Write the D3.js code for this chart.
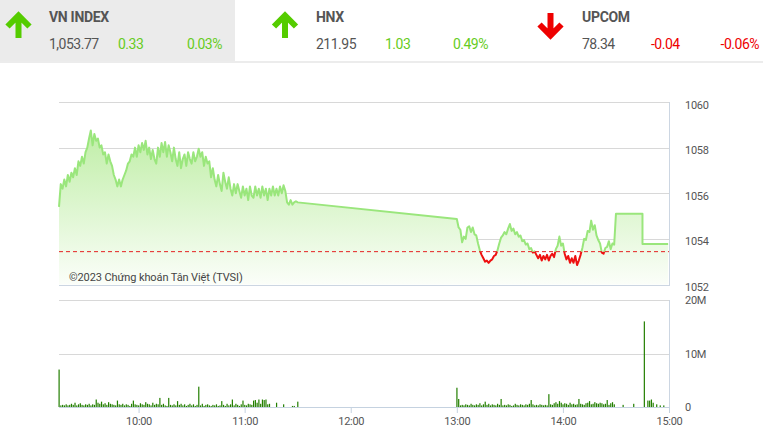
<!DOCTYPE html>
<html>
<head>
<meta charset="utf-8">
<script src="https://cdn.jsdelivr.net/npm/d3@7"></script>
<style>
  html, body { margin: 0; padding: 0; background: #fff; }
  svg { display: block; font-family: Roboto, "Noto Sans", sans-serif; }
</style>
</head>
<body>
<svg id="chart" width="763" height="436"></svg>
<script>
// ---------------- DATA ----------------
const headerNames    = ["VN INDEX", "HNX", "UPCOM"];
const headerValues   = ["1,053.77", "211.95", "78.34"];
const headerChanges  = ["0.33", "1.03", "-0.04"];
const headerPercents = ["0.03%", "0.49%", "-0.06%"];
const headerUp       = [true, true, false];

const referenceValue = 1053.44;     // previous close
const morningStart   = "09:15";     // one value per minute
const afternoonStart = "13:00";     // one value per minute

const morningIndex = [
  1055.4,1056.4,1056.2,1056.6,1056.3,1056.8,1056.5,1056.9,1056.7,1057.1,
  1056.8,1057.4,1057.2,1057.6,1057.3,1057.8,1058.0,1058.4,1058.75,1058.1,
  1058.6,1058.3,1058.4,1058.0,1058.1,1057.7,1057.8,1057.3,1057.7,1057.4,
  1057.2,1056.8,1056.6,1056.3,1056.6,1056.3,1056.6,1056.8,1057.0,1057.3,
  1057.4,1057.7,1057.6,1058.0,1057.6,1058.1,1057.8,1058.2,1057.9,1058.3,
  1057.7,1058.0,1057.5,1057.9,1057.5,1057.3,1058.0,1057.6,1058.2,1057.8,
  1058.25,1057.6,1058.1,1057.8,1057.4,1058.0,1057.5,1057.2,1057.8,1057.1,
  1057.5,1057.7,1057.2,1057.8,1057.5,1057.3,1057.8,1057.4,1057.6,1057.95,
  1057.6,1057.8,1057.2,1057.6,1057.3,1057.4,1056.7,1057.1,1056.6,1056.3,
  1056.8,1056.4,1056.1,1056.9,1056.5,1056.2,1056.7,1056.2,1055.9,1056.4,
  1056.0,1056.4,1056.1,1055.8,1056.3,1055.9,1056.2,1055.7,1056.3,1055.9,
  1055.8,1056.3,1055.9,1056.2,1055.8,1056.3,1055.9,1056.2,1055.7,1056.2,
  1055.9,1056.3,1055.9,1056.2,1055.9,1056.3,1056.0,1056.35,1056.1,1055.6,
  1055.5,1055.7,1055.5,1055.6,1055.65,1055.6
];
const afternoonIndex = [
  1054.87,1054.5,1054.4,1053.85,1054.1,1054.0,1054.5,1054.55,1054.3,1054.5,
  1054.2,1054.15,1053.8,1053.5,1053.3,1053.15,1053.0,1053.05,1052.95,1053.05,
  1053.1,1053.25,1053.3,1053.5,1053.8,1054.05,1054.15,1054.3,1054.2,1054.45,
  1054.65,1054.35,1054.45,1054.2,1054.3,1054.1,1054.15,1053.9,1053.95,1053.75,
  1053.8,1053.55,1053.6,1053.4,1053.45,1053.3,1053.15,1053.3,1053.05,1053.25,
  1053.1,1053.3,1053.05,1053.25,1053.35,1053.2,1053.55,1053.7,1054.1,1053.7,
  1053.8,1053.35,1053.1,1053.25,1052.95,1053.15,1052.95,1053.25,1052.85,1053.05,
  1053.3,1053.6,1054.0,1053.95,1054.35,1054.3,1054.8,1054.4,1054.6,1054.15,
  1053.95,1053.8,1053.4,1053.35,1053.6,1053.65,1053.9,1053.55,1053.8,1053.75
];
const atcTimes = ["14:30", "14:45", "14:45", "14:59:30"];
const atcIndex = [1055.1, 1055.1, 1053.77, 1053.77];

// volume in millions, one value per minute
const morningVolume = [
  7.0,0.3,0.4,0.3,0.5,0.3,0.4,0.6,0.4,0.8,
  0.3,0.5,0.7,0.4,0.3,0.5,0.4,0.6,0.3,0.5,
  0.4,1.4,0.8,0.6,1.0,0.5,0.7,0.4,0.9,0.6,
  0.5,0.4,0.3,1.2,0.5,0.4,0.6,0.3,0.5,0.4,
  0.2,0.6,1.2,0.5,0.4,0.3,0.7,0.5,0.4,0.9,
  0.6,0.5,0.3,0.8,0.4,0.6,0.5,1.7,0.4,0.6,
  0.3,0.2,1.7,0.4,0.3,0.5,0.3,1.1,0.4,0.6,
  0.3,0.5,0.2,0.4,0.6,0.3,0.5,0.2,0.4,3.8,
  0.3,0.6,0.2,0.4,0.5,0.3,0.2,0.4,0.3,0.5,
  0.2,0.3,1.1,0.4,0.2,0.6,0.3,0.5,1.4,0.3,
  0.6,0.4,0.2,0.5,1.2,0.4,0.3,0.6,0.5,0.4,
  1.2,1.3,0.8,1.4,0.6,1.4,1.3,1.4,0.5,0.6,
  0,0,0,0.8,0,0,0,0.5,0,0,
  0,0,0.2,0.2,0,1.0
];
const afternoonVolume = [
  3.6,1.5,0.3,0.4,0.3,0.5,0.4,0.3,0.6,0.4,
  0.3,0.5,0.4,0.7,0.3,0.5,1.0,0.4,0.6,0.3,
  0.5,0.4,0.3,0.6,0.4,1.5,0.3,0.4,0.3,0.5,
  0.4,0.2,0.3,0.6,0.4,0.3,0.5,0.4,0.3,0.5,
  0.4,0.6,1.3,0.5,0.3,0.4,0.3,0.5,0.4,0.3,
  0.4,0.3,2.4,0.5,0.4,0.7,0.9,0.6,1.1,0.8,
  0.5,0.7,0.6,0.4,0.8,0.5,0.6,0.4,0.5,1.5,
  0.6,0.5,0.4,0.7,0.8,1.1,0.5,0.6,0.9,0.7,
  0.6,0.8,0.7,0.5,0.6,1.3,0.4,0.7,0.9,0.5,
  0,0,0,0,0.4,0,0,0,0,0,
  0.6,0,0,0,0,0,16.0,0,1.2,1.2,
  1.4,0.8,0,0.5,0,0.3,0,0.3
];

const priceTicks   = [1052, 1054, 1056, 1058, 1060];
const volumeTicks  = [0, 10, 20];
const volumeLabels = ["0", "10M", "20M"];
const timeTicks    = ["10:00", "11:00", "12:00", "13:00", "14:00", "15:00"];
const domainTimes  = ["09:15", "15:00"];
const watermark    = "©2023 Chứng khoán Tân Việt (TVSI)";

// ---------------- HELPERS ----------------
const parseT = s => { const p = s.split(":").map(Number); return new Date(2023, 0, 2, p[0], p[1], p[2] || 0); };
const addMin = (d, m) => new Date(d.getTime() + m * 60000);

const priceData = [
  ...morningIndex.map((v, i) => ({ t: addMin(parseT(morningStart), i), v })),
  ...afternoonIndex.map((v, i) => ({ t: addMin(parseT(afternoonStart), i), v })),
  ...atcIndex.map((v, i) => ({ t: parseT(atcTimes[i]), v }))
];
const volData = [
  ...morningVolume.map((v, i) => ({ t: addMin(parseT(morningStart), i), v })),
  ...afternoonVolume.map((v, i) => ({ t: addMin(parseT(afternoonStart), i), v }))
].filter(d => d.v > 0);

// ---------------- LAYOUT ----------------
const svg = d3.select("#chart");
const W = 763;
const plotL = 59, plotR = 669;
const mainTop = 102, mainBot = 284.5;
const volTop = 300, volBot = 407;

const x = d3.scaleTime().domain(domainTimes.map(parseT)).range([plotL, plotR]);
const y = d3.scaleLinear().domain([1052, 1060]).range([mainBot, mainTop]);
const yv = d3.scaleLinear().domain([0, 20]).range([volBot, volTop]);

// ---------------- HEADER ----------------
const header = svg.append("g");
header.append("rect").attr("x", 0).attr("y", 0).attr("width", 235).attr("height", 62).attr("fill", "#ebebeb");
header.append("rect").attr("x", 0).attr("y", 61).attr("width", W).attr("height", 2).attr("fill", "#ececec");

const panelX = [0, 266, 533];
headerNames.forEach((name, i) => {
  const g = header.append("g").attr("transform", `translate(${panelX[i]},0)`);
  const up = headerUp[i];
  const col = up ? "#55cc00" : "#ee0000";
  const cx = i === 0 ? 18.5 : (i === 1 ? 19 : 17.5);
  if (up) {
    g.append("path").attr("d", `M${cx},38 L${cx},18 M${cx - 11},26.5 L${cx},15.5 L${cx + 11},26.5`)
      .attr("fill", "none").attr("stroke", col).attr("stroke-width", 6).attr("stroke-linejoin", "miter");
  } else {
    g.append("path").attr("d", `M${cx},13 L${cx},33 M${cx - 11},24.5 L${cx},35.5 L${cx + 11},24.5`)
      .attr("fill", "none").attr("stroke", col).attr("stroke-width", 6).attr("stroke-linejoin", "miter");
  }
  const tx = i === 0 ? 49 : (i === 1 ? 50 : 49);
  g.append("text").attr("x", tx).attr("y", 22).text(name)
    .attr("font-size", 14).attr("font-weight", 700).attr("fill", "#555").attr("letter-spacing", -0.3);
  g.append("text").attr("x", tx).attr("y", 49).text(headerValues[i])
    .attr("font-size", 14).attr("fill", "#555").attr("letter-spacing", -0.5);
  g.append("text").attr("x", tx + 69).attr("y", 49).text(headerChanges[i])
    .attr("font-size", 14).attr("fill", up ? "#66cc22" : "#ee0000").attr("letter-spacing", -0.5);
  const pctRight = i === 0 ? 222 : (i === 1 ? 222 : 226);
  g.append("text").attr("x", pctRight).attr("y", 49).attr("text-anchor", "end").text(headerPercents[i])
    .attr("font-size", 14).attr("fill", up ? "#66cc22" : "#ee0000").attr("letter-spacing", -0.5);
});

// ---------------- MAIN PRICE CHART ----------------
const defs = svg.append("defs");
const grad = defs.append("linearGradient").attr("id", "areaGrad")
  .attr("gradientUnits", "userSpaceOnUse").attr("x1", 0).attr("x2", 0).attr("y1", 130).attr("y2", mainBot);
grad.append("stop").attr("offset", 0).attr("stop-color", "#bfeea6");
grad.append("stop").attr("offset", 1).attr("stop-color", "#fbfef9");

const yRef = y(referenceValue);
defs.append("clipPath").attr("id", "clipAbove").append("rect")
  .attr("x", 0).attr("y", 0).attr("width", W).attr("height", yRef);
defs.append("clipPath").attr("id", "clipBelow").append("rect")
  .attr("x", 0).attr("y", yRef).attr("width", W).attr("height", 436 - yRef);

// grid
svg.append("g").selectAll("line").data(priceTicks.filter(d => d !== 1052)).join("line")
  .attr("x1", plotL).attr("x2", plotR).attr("y1", d => Math.round(y(d)) + 0.5).attr("y2", d => Math.round(y(d)) + 0.5)
  .attr("stroke", "#d8d8d8").attr("stroke-width", 1);

// area
const area = d3.area().x(d => x(d.t)).y0(mainBot).y1(d => y(d.v));
svg.append("path").datum(priceData).attr("d", area).attr("fill", "url(#areaGrad)");

// lines
const line = d3.line().x(d => x(d.t)).y(d => y(d.v));
svg.append("path").datum(priceData).attr("d", line).attr("clip-path", "url(#clipAbove)")
  .attr("fill", "none").attr("stroke", "#9ae67c").attr("stroke-width", 2).attr("stroke-linejoin", "round");
svg.append("path").datum(priceData).attr("d", line).attr("clip-path", "url(#clipBelow)")
  .attr("fill", "none").attr("stroke", "#ee1111").attr("stroke-width", 2).attr("stroke-linejoin", "round");

// reference dashed line
svg.append("line").attr("x1", plotL).attr("x2", plotR).attr("y1", yRef).attr("y2", yRef)
  .attr("stroke", "#e52222").attr("stroke-width", 1).attr("stroke-dasharray", "4,3");

// frame: bottom + right
svg.append("line").attr("x1", plotL).attr("x2", plotR + 0.5).attr("y1", Math.round(mainBot) + 0.5).attr("y2", Math.round(mainBot) + 0.5)
  .attr("stroke", "#ccd6e2");
svg.append("line").attr("x1", plotR + 0.5).attr("x2", plotR + 0.5).attr("y1", mainTop).attr("y2", Math.round(mainBot) + 1)
  .attr("stroke", "#ccd6e2");

// price axis labels
const yAxis = d3.axisRight(y).tickValues(priceTicks).tickSize(0).tickPadding(0).tickFormat(d3.format("d"));
const gy = svg.append("g").attr("transform", `translate(685,0)`).call(yAxis);
gy.select(".domain").remove();
gy.selectAll("text").attr("font-size", 11).attr("fill", "#555").attr("font-family", "Roboto").attr("dy", "0.55em").attr("letter-spacing", -0.3);

// watermark
svg.append("text").attr("x", 69).attr("y", 281).text(watermark)
  .attr("font-size", 11).attr("fill", "#444").attr("letter-spacing", -0.1);

// ---------------- VOLUME ----------------
svg.append("g").selectAll("line").data(volumeTicks.filter(d => d > 0)).join("line")
  .attr("x1", plotL).attr("x2", plotR).attr("y1", d => Math.round(yv(d)) + 0.5).attr("y2", d => Math.round(yv(d)) + 0.5)
  .attr("stroke", "#d8d8d8");
svg.append("line").attr("x1", plotR + 0.5).attr("x2", plotR + 0.5).attr("y1", volTop).attr("y2", volBot)
  .attr("stroke", "#ccd6e2");

// x axis
const xAxis = d3.axisBottom(x).tickValues(timeTicks.map(parseT)).tickSize(6).tickPadding(4).tickFormat(d3.timeFormat("%H:%M"));
const gx = svg.append("g").attr("transform", `translate(0,${volBot})`).call(xAxis);
gx.select(".domain").attr("d", `M${plotL},0.5H${plotR + 1}`).attr("stroke", "#c5d2e0");
gx.selectAll(".tick line").attr("stroke", "#c5d2e0");
gx.selectAll("text").attr("font-size", 11).attr("fill", "#555").attr("font-family", "Roboto").attr("letter-spacing", -0.3);

// volume bars
svg.append("g").selectAll("rect").data(volData).join("rect")
  .attr("x", d => x(d.t) - 0.5).attr("width", 1.2)
  .attr("y", d => Math.min(yv(d.v), volBot - 1)).attr("height", d => Math.max(volBot - yv(d.v), 1))
  .attr("fill", "#237f00");

// volume axis labels
svg.append("g").selectAll("text").data(volumeTicks).join("text")
  .attr("x", 685).attr("y", d => yv(d) + 4).text((d, i) => volumeLabels[i])
  .attr("font-size", 11).attr("fill", "#555").attr("letter-spacing", -0.3);
</script>
</body>
</html>
